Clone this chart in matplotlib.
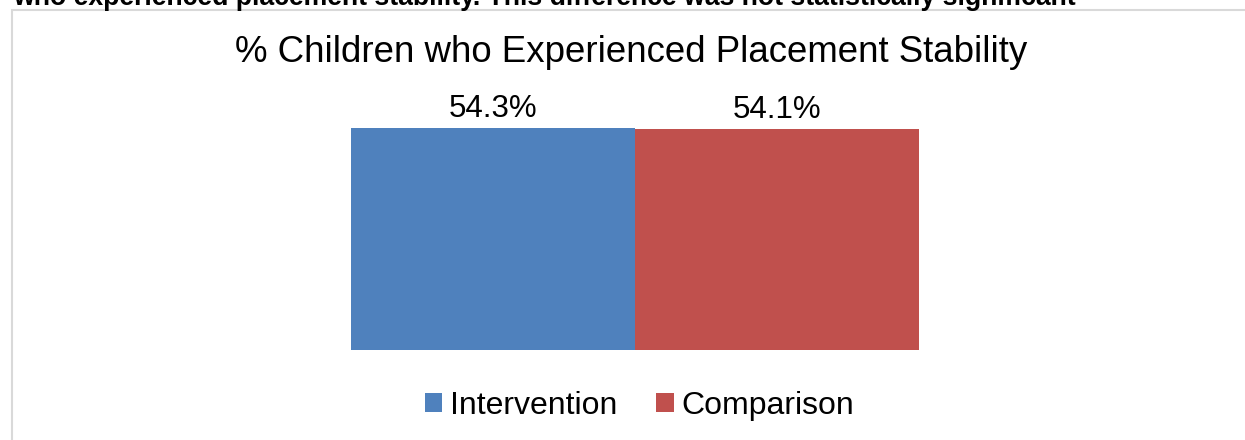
import matplotlib
matplotlib.use('agg')
import matplotlib.pyplot as plt
from matplotlib.patches import Rectangle, Patch

plt.rcParams['font.family'] = ['Liberation Sans', 'DejaVu Sans']

# data
groups = ['Intervention', 'Comparison']
values = [54.3, 54.1]
colors = ['#4F81BD', '#C0504D']
title = '% Children who Experienced Placement Stability'
lead_text = 'who experienced placement stability. This difference was not statistically significant'

W, H = 1245, 440
fig = plt.figure(figsize=(W / 100, H / 100), dpi=100)

# chart frame (runs off the right and bottom edges)
frame = Rectangle((12 / W, -0.1), 1.2, 1 - 10 / H + 0.1, transform=fig.transFigure,
                  facecolor='none', edgecolor='#d9d9d9', linewidth=1.5, clip_on=False)
fig.patches.append(frame)

# text line from the report above the chart, cut by the top edge
fig.text(13 / W, 1 - 5 / H, lead_text, fontsize=19.2, weight='bold', ha='left', va='baseline', color='black')

ax = fig.add_axes([351 / W, (H - 350) / H, 568 / W, 245 / H])
xs = [-0.5, 0.5]
for x, v, c, g in zip(xs, values, colors, groups):
    ax.bar(x, v, width=1.0, color=c, linewidth=0, label=g)
    ax.annotate(f'{v:.1f}%', (x, v), xytext=(0, 8), textcoords='offset points',
                ha='center', va='baseline', fontsize=22.5, color='black')
ax.set_xlim(-1, 1)
ax.set_ylim(0, 60)
ax.axis('off')

fig.text(631.5 / W, (H - 62) / H, title, fontsize=26.4, ha='center', va='baseline', color='black')

handles = [Patch(facecolor=c, edgecolor='none', label=g) for g, c in zip(groups, colors)]
fig.legend(handles=handles, loc='center', bbox_to_anchor=(639.5 / W, 34 / H), ncol=2,
           frameon=False, fontsize=23, handlelength=0.55, handleheight=0.55,
           handletextpad=0.25, columnspacing=1.2, borderpad=0, borderaxespad=0)

fig.savefig('out.png', dpi=100)
